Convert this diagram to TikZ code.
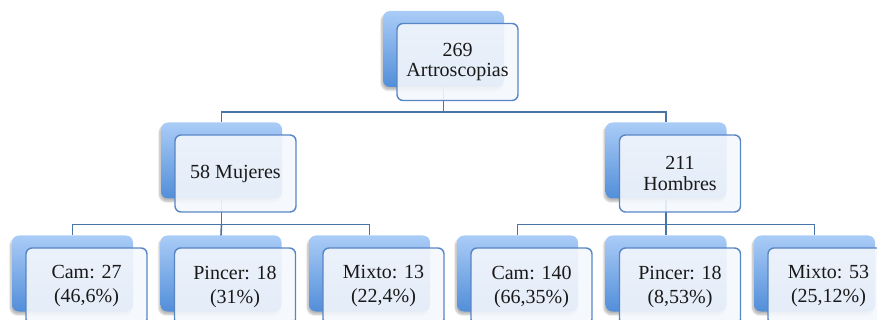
\documentclass[tikz,border=0pt]{standalone}
\usepackage{fontspec}
\setmainfont{Liberation Serif}
\usetikzlibrary{shadows.blur}
\definecolor{boxtop}{RGB}{170,204,247}
\definecolor{boxbot}{RGB}{82,142,217}
\definecolor{boxline}{RGB}{88,133,196}
\definecolor{boxfill}{RGB}{244,247,252}
\definecolor{connline}{RGB}{72,116,166}
\tikzset{
  backbox/.style={rectangle, rounded corners=7pt, minimum width=121pt, minimum height=76pt,
    top color=boxtop, bottom color=boxbot, draw=none,
    blur shadow={shadow xshift=-1.5pt, shadow yshift=-3pt, shadow blur steps=6, shadow opacity=28}},
  frontbox/.style={rectangle, rounded corners=6pt, minimum width=121pt, minimum height=77pt,
    draw=boxline, line width=1.4pt, fill=boxfill, fill opacity=0.9, text opacity=1,
    align=center, text=black!90, font=\fontsize{20}{20.5}\selectfont},
  leafbox/.style={frontbox, font=\fontsize{20}{24}\selectfont},
  conn/.style={draw=connline, line width=1.6pt}
}
\begin{document}
\begin{tikzpicture}[x=1pt,y=-1pt]
      \useasboundingbox (0,0) rectangle (877,320);
      \clip (0,0) rectangle (877,320);
      % levels of the tree
      \coordinate (busA) at (0,112);
      \coordinate (busB) at (0,224.5);
      \node[backbox] (total) at (443.5,49) {};
      \node[backbox] (muj) at (221.5,160.5) {};
      \node[backbox] (hom) at (666,160.5) {};
      \node[backbox] (mcam) at (72.5,273.5) {};
      \node[backbox] (mpin) at (221,273.5) {};
      \node[backbox] (mmix) at (369.5,273.5) {};
      \node[backbox] (hcam) at (517.5,273.5) {};
      \node[backbox] (hpin) at (666,273.5) {};
      \node[backbox] (hmix) at (814.5,273.5) {};
      \begin{scope}
        \draw[conn] (total.south) -- (total.south |- busA) -| (muj.north);
        \draw[conn] (total.south |- busA) -| (hom.north);
        \draw[conn] (muj.south) -- (muj.south |- busB) -| (mcam.north);
        \draw[conn] (muj.south |- busB) -| (mmix.north);
        \draw[conn] (muj.south |- busB) -- (mpin.north);
        \draw[conn] (hom.south) -- (hom.south |- busB) -| (hcam.north);
        \draw[conn] (hom.south |- busB) -| (hmix.north);
        \draw[conn] (hom.south |- busB) -- (hpin.north);
      \end{scope}
      \node[frontbox] (totalT) at ([shift={(14,13)}]total.center) {269\\Artroscopias};
      \node[frontbox] (mujT) at ([shift={(14,13)}]muj.center) {58 Mujeres};
      \node[frontbox] (homT) at ([shift={(14,13)}]hom.center) {211\\Hombres};
      \node[leafbox] (mcamT) at ([shift={(14,13)}]mcam.center) {Cam: 27\\(46,6\%)};
      \node[leafbox] (mpinT) at ([shift={(14,13)}]mpin.center) {Pincer: 18\\(31\%)};
      \node[leafbox] (mmixT) at ([shift={(14,13)}]mmix.center) {Mixto: 13\\(22,4\%)};
      \node[leafbox] (hcamT) at ([shift={(14,13)}]hcam.center) {Cam: 140\\(66,35\%)};
      \node[leafbox] (hpinT) at ([shift={(14,13)}]hpin.center) {Pincer: 18\\(8,53\%)};
      \node[leafbox] (hmixT) at ([shift={(14,13)}]hmix.center) {Mixto: 53\\(25,12\%)};
    \end{tikzpicture}
\end{document}
